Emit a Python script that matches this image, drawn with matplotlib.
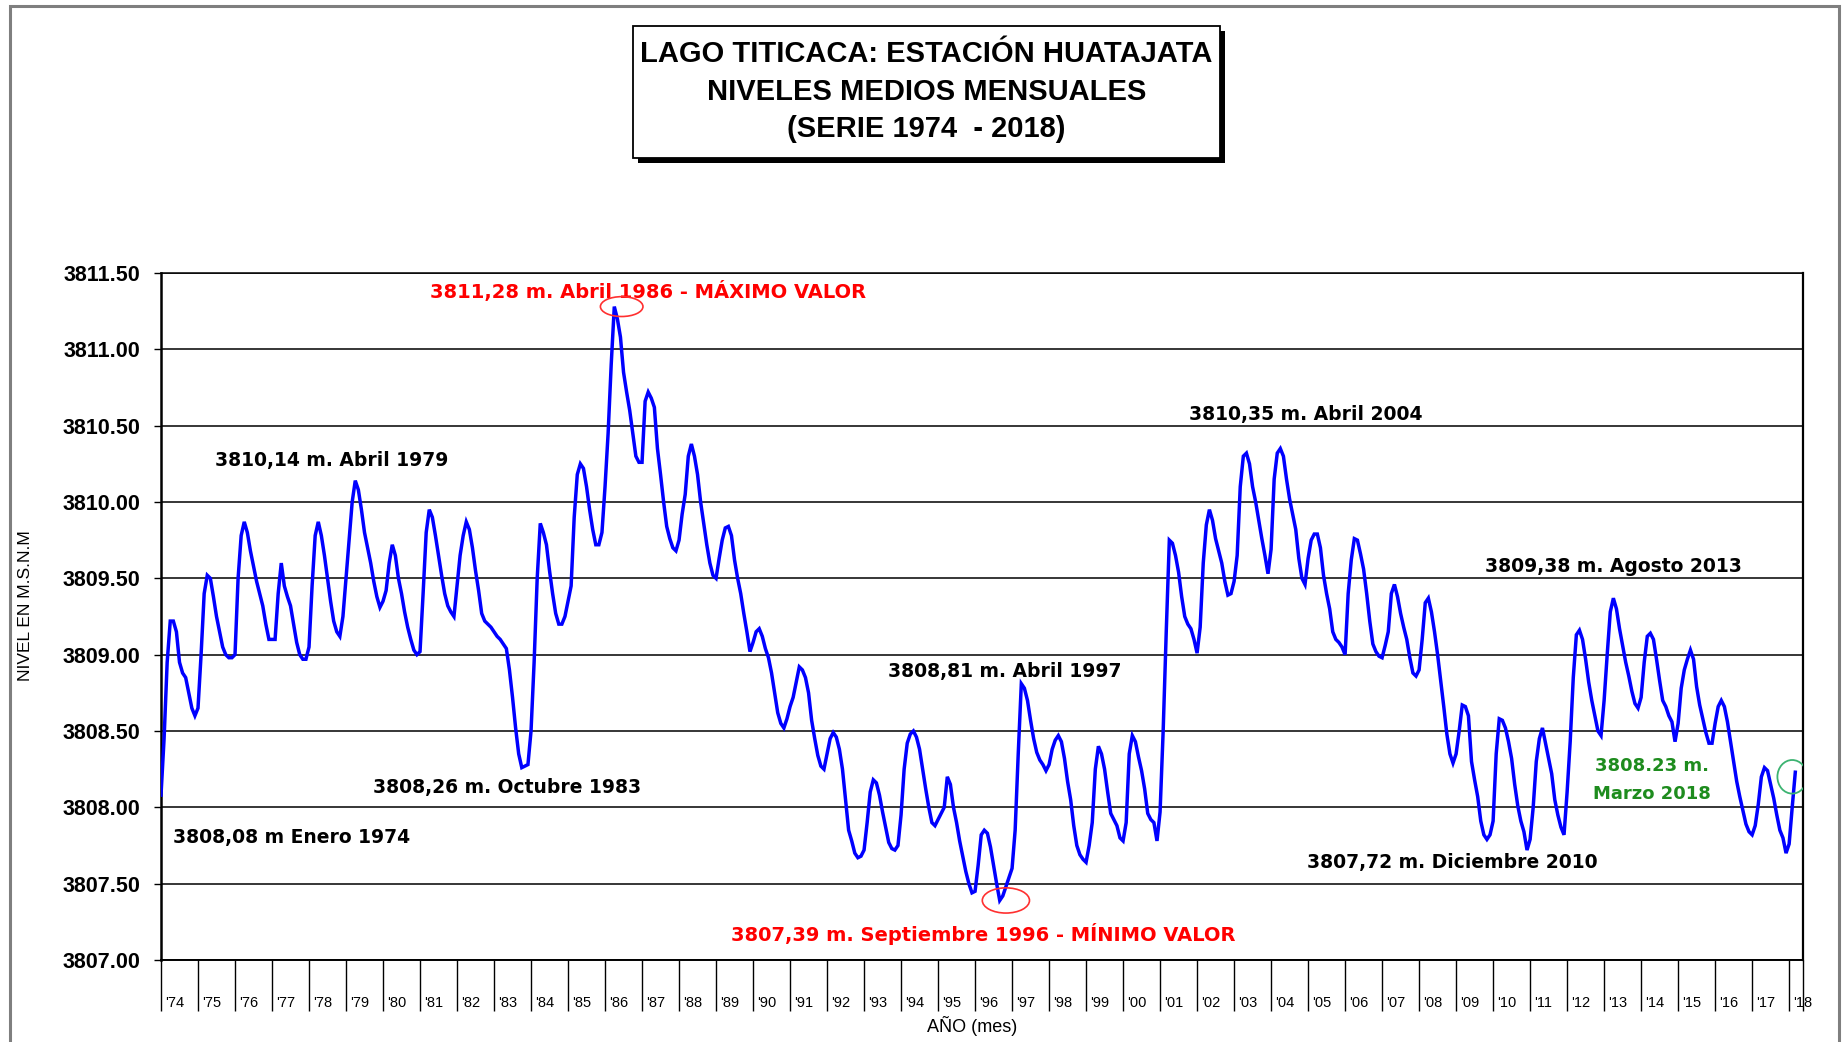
import numpy as np
import matplotlib
matplotlib.use("Agg")
import matplotlib.pyplot as plt
from matplotlib.patches import Ellipse, Rectangle

# ---------------- data (monthly mean levels, m a.s.l.) ----------------
years = list(range(1974, 2019))
year_labels = ["'" + str(y)[2:] for y in years]

lvl_1974_1979 = [
    3808.08, 3808.45, 3808.95, 3809.22, 3809.22, 3809.15, 3808.95, 3808.88, 3808.85, 3808.75, 3808.65, 3808.60,
    3808.65, 3809.00, 3809.40, 3809.52, 3809.50, 3809.38, 3809.25, 3809.15, 3809.05, 3809.00, 3808.98, 3808.98,
    3809.00, 3809.50, 3809.78, 3809.87, 3809.80, 3809.68, 3809.58, 3809.48, 3809.40, 3809.32, 3809.20, 3809.10,
    3809.10, 3809.10, 3809.40, 3809.60, 3809.45, 3809.38, 3809.32, 3809.20, 3809.08, 3809.00, 3808.97, 3808.97,
    3809.05, 3809.45, 3809.78, 3809.87, 3809.78, 3809.65, 3809.50, 3809.35, 3809.22, 3809.15, 3809.12, 3809.25,
    3809.50, 3809.75, 3810.00, 3810.14, 3810.08, 3809.95, 3809.80, 3809.70, 3809.60, 3809.48, 3809.38, 3809.31,
]
lvl_1980_1989 = [
    3809.35, 3809.42, 3809.60, 3809.72, 3809.65, 3809.50, 3809.40, 3809.28, 3809.18, 3809.10, 3809.03, 3809.00,
    3809.02, 3809.40, 3809.80, 3809.95, 3809.90, 3809.78, 3809.65, 3809.52, 3809.40, 3809.32, 3809.28, 3809.25,
    3809.45, 3809.65, 3809.78, 3809.87, 3809.82, 3809.70, 3809.55, 3809.42, 3809.27, 3809.22, 3809.20, 3809.18,
    3809.15, 3809.12, 3809.10, 3809.07, 3809.04, 3808.90, 3808.72, 3808.52, 3808.35, 3808.26, 3808.27, 3808.28,
    3808.50, 3808.95, 3809.50, 3809.86, 3809.80, 3809.72, 3809.55, 3809.40, 3809.27, 3809.20, 3809.20, 3809.25,
    3809.35, 3809.45, 3809.90, 3810.18, 3810.25, 3810.22, 3810.10, 3809.95, 3809.82, 3809.72, 3809.72, 3809.80,
    3810.10, 3810.45, 3810.90, 3811.28, 3811.20, 3811.08, 3810.85, 3810.72, 3810.60, 3810.45, 3810.30, 3810.26,
    3810.26, 3810.66, 3810.72, 3810.68, 3810.62, 3810.35, 3810.18, 3810.00, 3809.84, 3809.76, 3809.70, 3809.68,
    3809.75, 3809.92, 3810.05, 3810.30, 3810.38, 3810.30, 3810.18, 3810.00, 3809.86, 3809.72, 3809.60, 3809.52,
    3809.50, 3809.63, 3809.75, 3809.83, 3809.84, 3809.78, 3809.62, 3809.50, 3809.40, 3809.27, 3809.15, 3809.02,
]
lvl_1990_1999 = [
    3809.08, 3809.15, 3809.17, 3809.12, 3809.04, 3808.98, 3808.88, 3808.75, 3808.62, 3808.55, 3808.52, 3808.58,
    3808.66, 3808.72, 3808.82, 3808.92, 3808.90, 3808.85, 3808.75, 3808.57, 3808.45, 3808.34, 3808.27, 3808.25,
    3808.35, 3808.45, 3808.49, 3808.46, 3808.38, 3808.25, 3808.05, 3807.85, 3807.78, 3807.70, 3807.67, 3807.68,
    3807.72, 3807.90, 3808.10, 3808.18, 3808.16, 3808.08, 3807.97, 3807.87, 3807.77, 3807.73, 3807.72, 3807.75,
    3807.95, 3808.25, 3808.42, 3808.48, 3808.50, 3808.46, 3808.38, 3808.25, 3808.12, 3808.00, 3807.90, 3807.88,
    3807.92, 3807.96, 3808.00, 3808.20, 3808.15, 3808.00, 3807.90, 3807.78, 3807.68, 3807.58, 3807.50, 3807.44,
    3807.45, 3807.62, 3807.82, 3807.85, 3807.83, 3807.74, 3807.62, 3807.50, 3807.39, 3807.42, 3807.48, 3807.54,
    3807.60, 3807.85, 3808.35, 3808.81, 3808.78, 3808.70, 3808.57, 3808.45, 3808.36, 3808.31, 3808.28, 3808.24,
    3808.28, 3808.38, 3808.44, 3808.47, 3808.43, 3808.32, 3808.17, 3808.05, 3807.88, 3807.75, 3807.69, 3807.66,
    3807.64, 3807.75, 3807.90, 3808.25, 3808.40, 3808.35, 3808.25, 3808.10, 3807.96, 3807.92, 3807.88, 3807.80,
]
lvl_2000_2009 = [
    3807.78, 3807.90, 3808.35, 3808.47, 3808.43, 3808.33, 3808.24, 3808.12, 3807.96, 3807.92, 3807.90, 3807.78,
    3807.97, 3808.50, 3809.15, 3809.75, 3809.73, 3809.65, 3809.54, 3809.38, 3809.25, 3809.20, 3809.17, 3809.10,
    3809.01, 3809.18, 3809.60, 3809.85, 3809.95, 3809.88, 3809.76, 3809.68, 3809.60, 3809.48, 3809.39, 3809.40,
    3809.48, 3809.65, 3810.10, 3810.30, 3810.32, 3810.25, 3810.10, 3810.00, 3809.88, 3809.76, 3809.65, 3809.53,
    3809.69, 3810.15, 3810.32, 3810.35, 3810.30, 3810.15, 3810.02, 3809.92, 3809.82, 3809.63, 3809.50, 3809.46,
    3809.63, 3809.75, 3809.79, 3809.79, 3809.70, 3809.52, 3809.40, 3809.30, 3809.15, 3809.10, 3809.08, 3809.05,
    3809.00, 3809.40, 3809.62, 3809.76, 3809.75, 3809.66, 3809.56, 3809.40, 3809.22, 3809.07, 3809.02, 3808.99,
    3808.98, 3809.06, 3809.15, 3809.40, 3809.46, 3809.38, 3809.27, 3809.18, 3809.10, 3808.98, 3808.88, 3808.86,
    3808.90, 3809.10, 3809.34, 3809.37, 3809.28, 3809.15, 3809.00, 3808.83, 3808.66, 3808.48, 3808.35, 3808.29,
    3808.35, 3808.50, 3808.67, 3808.66, 3808.60, 3808.30, 3808.18, 3808.07, 3807.91, 3807.82, 3807.79, 3807.82,
]
lvl_2010_2018 = [
    3807.91, 3808.35, 3808.58, 3808.57, 3808.52, 3808.43, 3808.32, 3808.15, 3808.01, 3807.91, 3807.84, 3807.72,
    3807.79, 3808.00, 3808.30, 3808.45, 3808.52, 3808.42, 3808.32, 3808.22, 3808.05, 3807.95, 3807.87, 3807.82,
    3808.10, 3808.43, 3808.85, 3809.13, 3809.16, 3809.10, 3808.97, 3808.82, 3808.70, 3808.60, 3808.50, 3808.47,
    3808.70, 3809.00, 3809.28, 3809.37, 3809.30, 3809.17, 3809.06, 3808.95, 3808.86, 3808.76, 3808.68, 3808.65,
    3808.72, 3808.95, 3809.12, 3809.14, 3809.10, 3808.97, 3808.83, 3808.70, 3808.66, 3808.60, 3808.56, 3808.43,
    3808.55, 3808.78, 3808.90, 3808.97, 3809.03, 3808.97, 3808.79, 3808.67, 3808.58, 3808.49, 3808.42, 3808.42,
    3808.55, 3808.66, 3808.70, 3808.66, 3808.56, 3808.43, 3808.30, 3808.17, 3808.07, 3807.98, 3807.89, 3807.84,
    3807.82, 3807.88, 3808.02, 3808.20, 3808.26, 3808.24, 3808.15, 3808.06, 3807.95, 3807.85, 3807.80, 3807.70,
    3807.76, 3808.00, 3808.23,
]

y_ticks = [3807.0, 3807.5, 3808.0, 3808.5, 3809.0, 3809.5, 3810.0, 3810.5, 3811.0, 3811.5]

title_lines = ["LAGO TITICACA: ESTACIÓN HUATAJATA",
               "NIVELES MEDIOS MENSUALES",
               "(SERIE 1974  - 2018)"]

levels = np.array(lvl_1974_1979 + lvl_1980_1989 + lvl_1990_1999 + lvl_2000_2009 + lvl_2010_2018)
months = np.arange(len(levels))

# ---------------- figure ----------------
W, H = 1845, 1042
fig = plt.figure(figsize=(W / 100, H / 100), dpi=100)
fig.patch.set_facecolor("white")

def fx(px):
    return px / W

def fy(py):
    return 1 - py / H

ax = fig.add_axes([fx(161), fy(960), fx(1803) - fx(161), fy(273) - fy(960)])
ax.plot(months, levels, color="#0000FF", lw=2.5, solid_joinstyle="miter", zorder=3)

ax.set_xlim(0, 532.5)
ax.set_ylim(3807.0, 3811.5)
ax.set_yticks(y_ticks)
ax.set_yticklabels([f"{v:.2f}" for v in y_ticks], fontfamily="Liberation Sans",
                   fontweight="bold", fontsize=15.5)
ax.tick_params(axis="y", direction="out", length=5, width=1.0, pad=10)
ax.grid(axis="y", color="black", lw=1.1, zorder=1)

xt = [12 * i for i in range(len(years))] + [532.5]
ax.set_xticks(xt)
ax.set_xticklabels([""] * len(xt))
ax.tick_params(axis="x", direction="out", length=37, width=1.0)
for i, lab in enumerate(year_labels):
    ax.text(12 * i + 1.2, -0.062, lab, transform=ax.get_xaxis_transform(),
            ha="left", va="center", fontsize=10.5, fontfamily="Liberation Sans")

for s in ax.spines.values():
    s.set_color("black")
ax.spines["left"].set_linewidth(1.8)
ax.spines["bottom"].set_linewidth(1.4)
ax.spines["right"].set_linewidth(1.6)
ax.spines["top"].set_linewidth(1.1)

# axis titles
fig.text(fx(972), fy(1026), "AÑO (mes)", ha="center", va="center",
         fontsize=13, fontfamily="Liberation Sans")
fig.text(fx(26), fy(606), "NIVEL EN M.S.N.M", ha="center", va="center",
         rotation=90, fontsize=12.5, fontfamily="Liberation Sans")

# ---------------- annotations ----------------
base = dict(fontfamily="DejaVu Sans", fontweight="bold", ha="center", va="center")
notes = [
    (157.9, 3811.38, "3811,28 m. Abril 1986 - MÁXIMO VALOR", "#FF0000", 14.0),
    (55.2, 3810.27, "3810,14 m. Abril 1979", "black", 13.5),
    (112.3, 3808.13, "3808,26 m. Octubre 1983", "black", 13.5),
    (42.4, 3807.80, "3808,08 m Enero 1974", "black", 13.5),
    (273.6, 3808.89, "3808,81 m. Abril 1997", "black", 13.5),
    (266.8, 3807.17, "3807,39 m. Septiembre 1996 - MÍNIMO VALOR", "#FF0000", 14.0),
    (371.2, 3810.57, "3810,35 m. Abril 2004", "black", 13.5),
    (471.0, 3809.58, "3809,38 m. Agosto 2013", "black", 13.5),
    (418.8, 3807.64, "3807,72 m. Diciembre 2010", "black", 13.5),
]
for x, y, t, c, fs in notes:
    ax.text(x, y, t, color=c, fontsize=fs, zorder=5, **base)

green = dict(fontfamily="DejaVu Sans", fontweight="bold", fontsize=13,
             ha="center", va="center", color="#1E8C1E")
ax.text(483.5, 3808.27, "3808.23 m.", **green)
ax.text(483.5, 3808.085, "Marzo 2018", **green)

imax = int(np.argmax(levels))
imin = int(np.argmin(levels))
ax.add_patch(Ellipse((months[imax] + 2.4, levels[imax]), 13.8, 0.13,
                     fill=False, ec="#FF3030", lw=1.2, zorder=6))
ax.add_patch(Ellipse((months[imin] + 2.0, levels[imin]), 15.3, 0.165,
                     fill=False, ec="#FF3030", lw=1.2, zorder=6))
ax.add_patch(Ellipse((months[-1] - 1.0, levels[-1] - 0.03), 9.6, 0.22,
                     fill=False, ec="#3CB371", lw=1.3, zorder=6))

# ---------------- title box ----------------
bx0, by0, bx1, by1 = 633, 26, 1220, 158
fig.patches.append(Rectangle((fx(bx0 + 5), fy(by1 + 5)), fx(bx1 - bx0), fy(by0) - fy(by1),
                             transform=fig.transFigure, fc="black", ec="black", lw=0, zorder=1))
fig.patches.append(Rectangle((fx(bx0), fy(by1)), fx(bx1 - bx0), fy(by0) - fy(by1),
                             transform=fig.transFigure, fc="white", ec="black", lw=1.3, zorder=2))
for py, line in zip([54, 92, 129], title_lines):
    fig.text(fx((bx0 + bx1) / 2), fy(py), line, ha="center", va="center",
             fontsize=21, fontweight="bold", fontfamily="Liberation Sans", zorder=3)

# outer chart border
fig.patches.append(Rectangle((fx(10), fy(H + 5)), fx(1839 - 10), fy(6) - fy(H + 5),
                             transform=fig.transFigure, fill=False, ec="#7F7F7F", lw=2.2, zorder=0))

fig.savefig("out.png", dpi=100, facecolor="white")
